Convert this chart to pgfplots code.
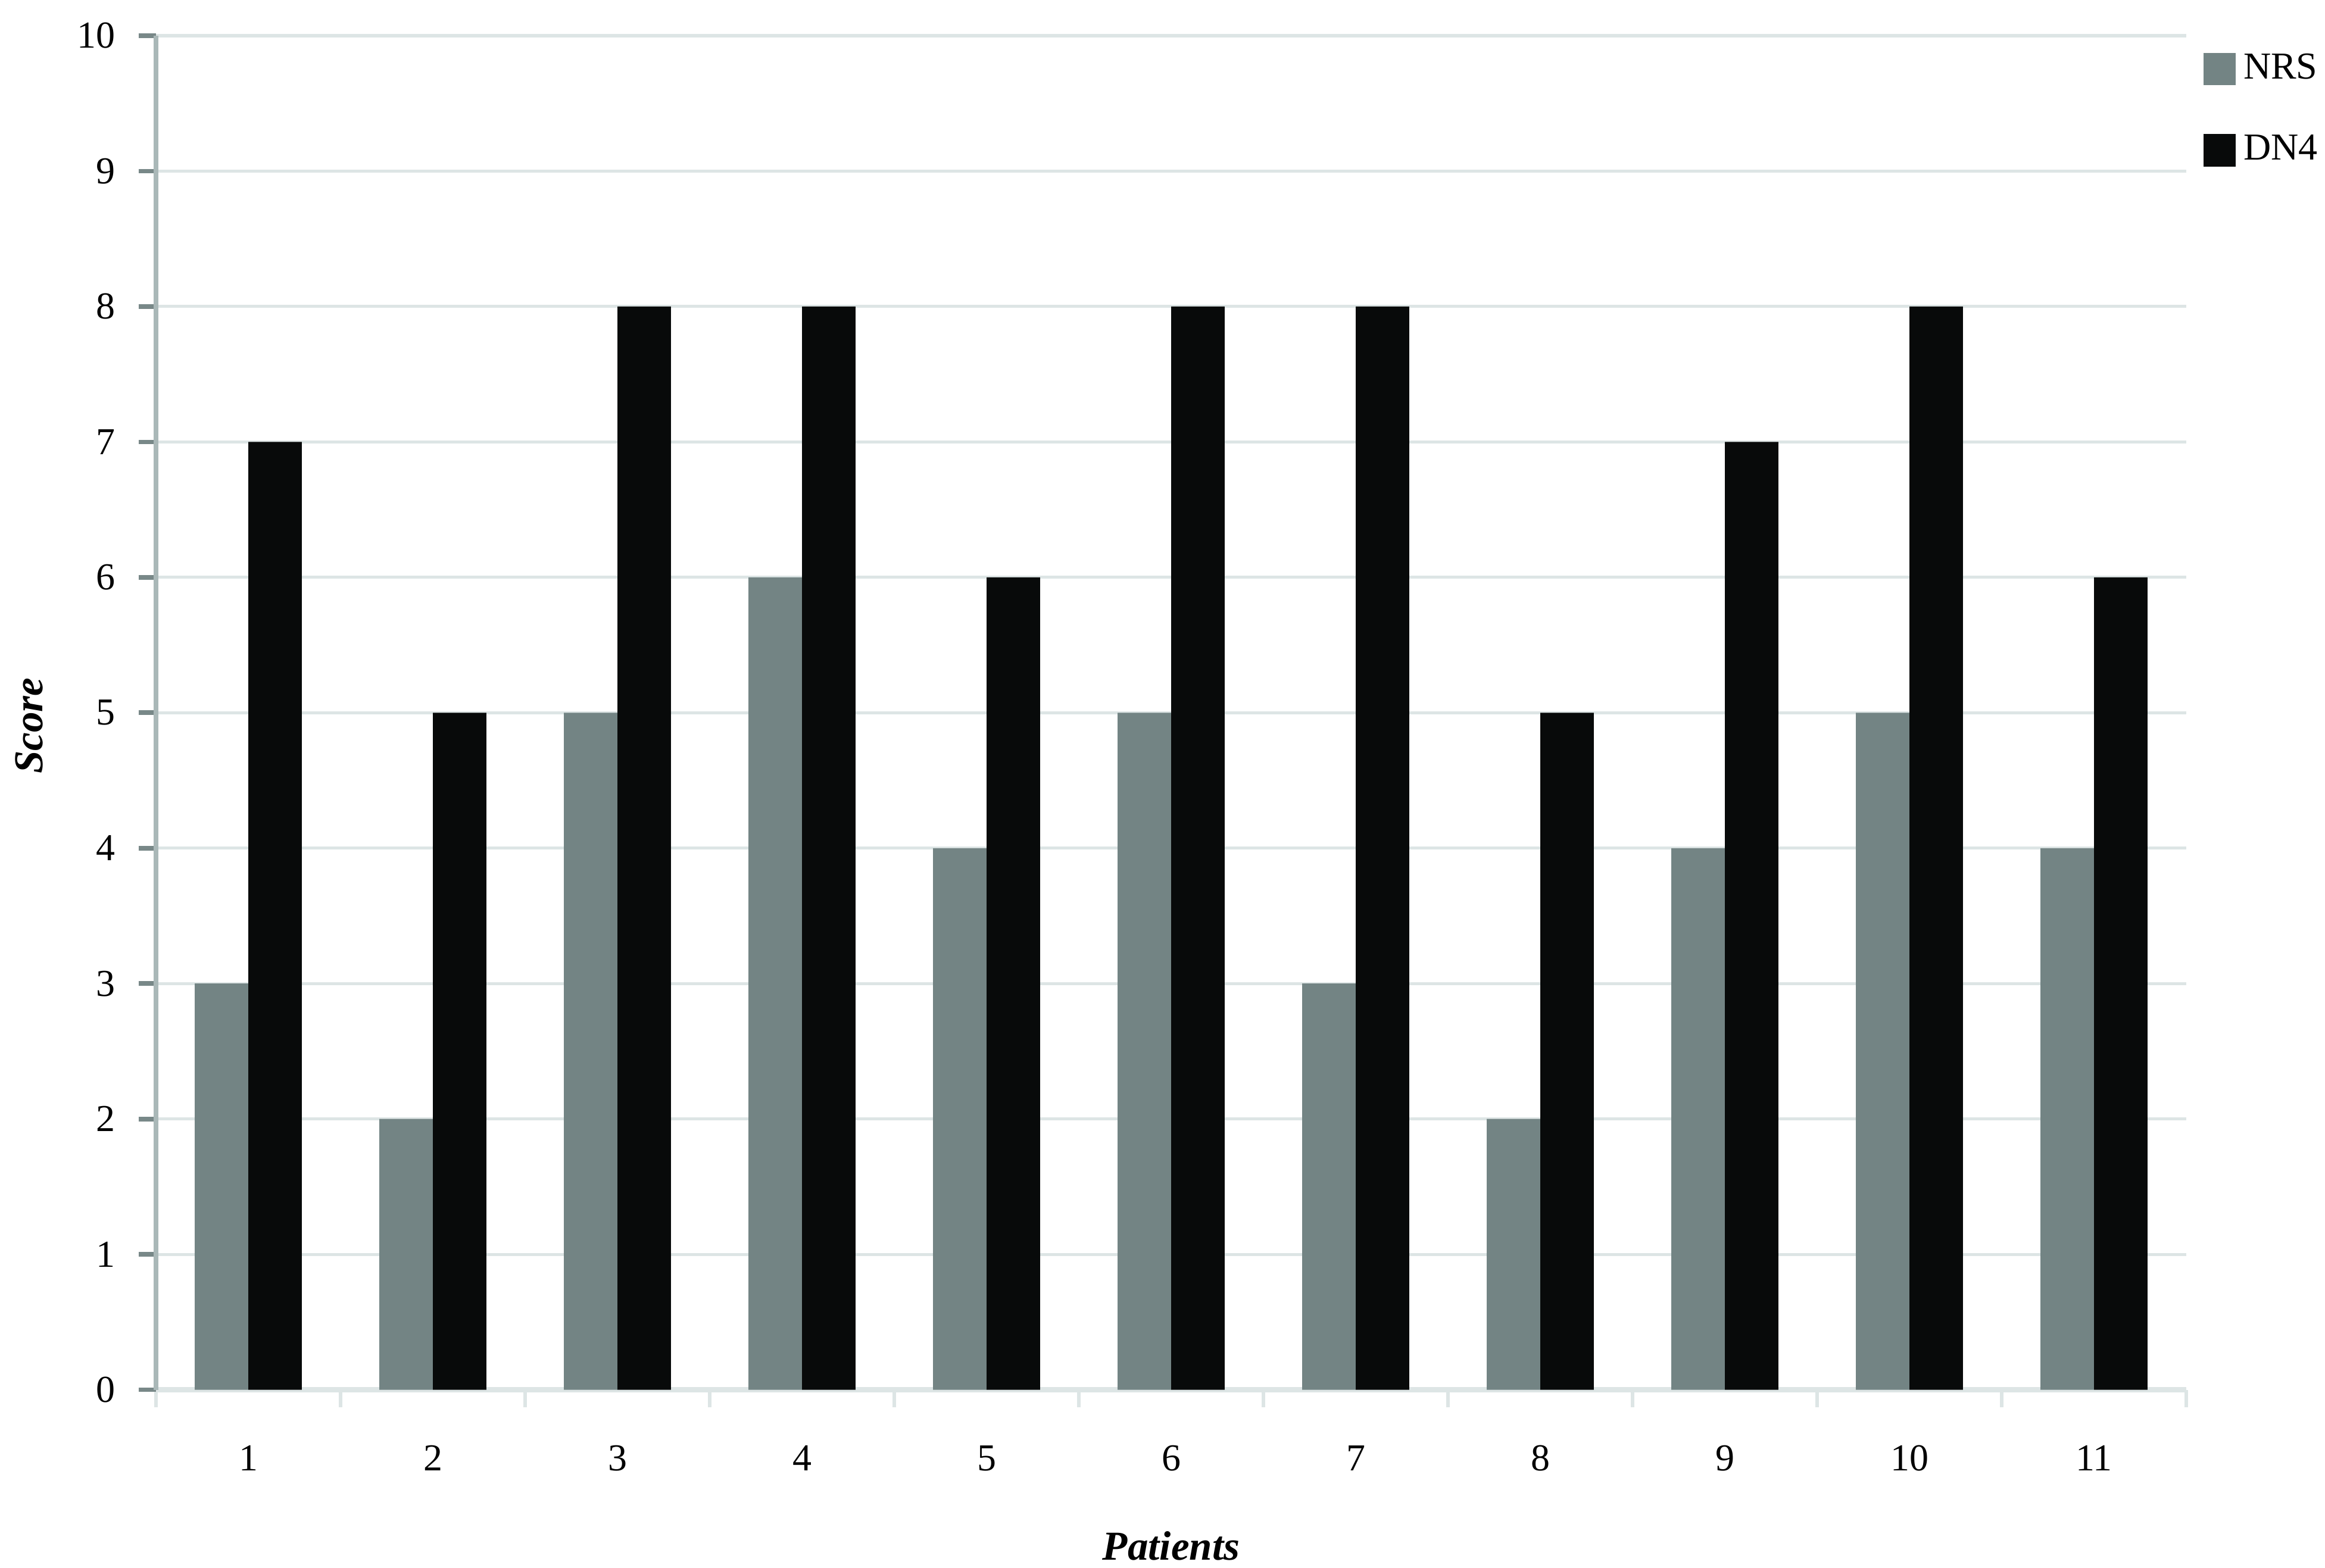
\documentclass[border=0pt]{standalone}
\usepackage{fontspec}
\setmainfont{Liberation Serif}
\usepackage{pgfplots}
\pgfplotsset{compat=1.18}
\definecolor{nrs}{RGB}{115,132,132}
\definecolor{dnf}{RGB}{8,10,10}
\definecolor{gridc}{RGB}{221,229,229}
\definecolor{yaxc}{RGB}{170,184,184}
\definecolor{ytickc}{RGB}{120,136,136}
\begin{document}
\begin{tikzpicture}
\path[use as bounding box] (-1.44cm,-1.64cm) rectangle (20.02cm,12.83cm);
\begin{axis}[
  at={(0,0)}, anchor=south west,
  scale only axis, width=18.74cm, height=12.5cm,
  ymin=0, ymax=10, xmin=0.5, xmax=11.5,
  enlargelimits=false,
  axis x line=bottom, axis y line=left,
  x axis line style={-, draw=gridc, line width=1.3pt},
  y axis line style={-, draw=yaxc, line width=1.3pt},
  xtick={0.5,1.5,...,11.5},
  xticklabels={1,2,3,4,5,6,7,8,9,10,11},
  x tick label as interval,
  ytick={0,1,...,10},
  tick align=outside, major tick length=0.16cm,
  xtick style={draw=gridc, line width=1pt},
  ytick style={draw=ytickc, line width=1.2pt},
  ymajorgrids, grid style={draw=gridc, line width=0.8pt},
  /pgf/number format/assume math mode=true,
  xticklabel style={yshift=-0.23cm},
  yticklabel style={xshift=-0.09cm},
  tick label style={font=\normalsize},
  label style={font=\fontsize{10.8}{13}\selectfont},
  xlabel={\textbf{\textit{Patients}}},
  ylabel={\textbf{\textit{Score}}},
  xlabel style={at={(axis description cs:0.5,0)}, anchor=center, yshift=-1.44cm},
  ylabel style={at={(axis description cs:0,0.5)}, anchor=center, yshift=1.17cm, xshift=-0.12cm},
  legend style={at={(1,1)}, anchor=north west, xshift=0.15cm, yshift=-0.15cm,
    draw=none, fill=none, row sep=0.45cm, inner sep=0pt,
    nodes={inner xsep=2pt, inner ysep=0pt}},
  legend cell align=left,
  legend image code/.code={\fill[#1] (0cm,-0.15cm) rectangle (0.3cm,0.15cm);},
]
\addplot[ybar, bar width=0.29, bar shift=-0.145, fill=nrs, draw=none] coordinates {
  (1,3) (2,2) (3,5) (4,6) (5,4) (6,5) (7,3) (8,2) (9,4) (10,5) (11,4)
};
\addlegendentry{NRS}
\addplot[ybar, bar width=0.29, bar shift=0.145, fill=dnf, draw=none] coordinates {
  (1,7) (2,5) (3,8) (4,8) (5,6) (6,8) (7,8) (8,5) (9,7) (10,8) (11,6)
};
\addlegendentry{DN4}
\end{axis}
\end{tikzpicture}
\end{document}
